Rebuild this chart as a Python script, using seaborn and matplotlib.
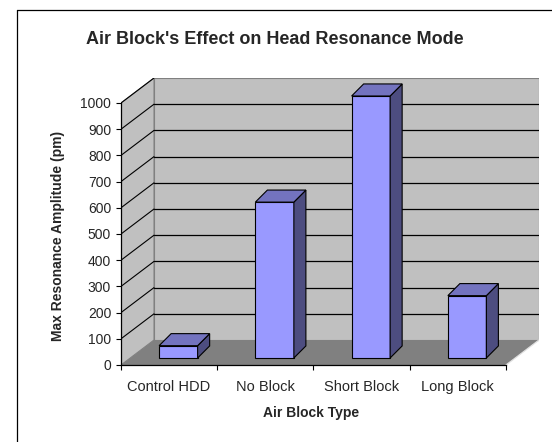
import matplotlib
matplotlib.use("Agg")
import matplotlib.pyplot as plt
from matplotlib.patches import Polygon
from matplotlib.lines import Line2D
import seaborn as sns
import pandas as pd

# ---- data ----
categories = ["Control HDD", "No Block", "Short Block", "Long Block"]
amplitudes = [47, 595, 1000, 238]
y_ticks = [0, 100, 200, 300, 400, 500, 600, 700, 800, 900, 1000]
title = "Air Block's Effect on Head Resonance Mode"
x_title = "Air Block Type"
y_title = "Max Resonance Amplitude (pm)"

df = pd.DataFrame({"type": categories, "amp": amplitudes})

sns.set_style("white")
plt.rcParams["font.family"] = ["Liberation Sans", "DejaVu Sans"]

W, H = 552, 442
fig = plt.figure(figsize=(W / 100, H / 100), dpi=100)
fig.patch.set_facecolor("white")

# pseudo-3D geometry (data units)
DX, DY = 0.343, 95.4          # depth of floor / walls
BDX, BDY = 0.125, 46.0        # depth of each bar
FR = 0.28                     # bar front-face depth fraction
YMAX = 1000

# axes placement (pixels)
ax_l, ax_r, ax_b, ax_t = 121, 539, 365, 78
ax = fig.add_axes([ax_l / W, 1 - ax_b / H, (ax_r - ax_l) / W, (ax_b - ax_t) / H])
ax.set_facecolor("none")

n = len(categories)
wall = "#C0C0C0"
floor = "#808080"

# bars (front faces) via seaborn
sns.barplot(data=df, x="type", y="amp", color="#9999FF", width=0.4, ax=ax,
            edgecolor="black", linewidth=0.8, saturation=1, zorder=3)
ax.set_xlim(-0.5, n - 0.5 + DX)
ax.set_ylim(0, YMAX + DY)

for p in list(ax.patches):
    p.set_x(p.get_x() + FR * DX)
    p.set_y(p.get_y() + FR * DY)
    x0, y0, w, h = p.get_x(), p.get_y(), p.get_width(), p.get_height()
    side = [(x0 + w, y0), (x0 + w + BDX, y0 + BDY), (x0 + w + BDX, y0 + h + BDY), (x0 + w, y0 + h)]
    top = [(x0, y0 + h), (x0 + w, y0 + h), (x0 + w + BDX, y0 + h + BDY), (x0 + BDX, y0 + h + BDY)]
    ax.add_patch(Polygon(side, closed=True, facecolor="#4D4D80", edgecolor="black", lw=0.8, zorder=3))
    ax.add_patch(Polygon(top, closed=True, facecolor="#7373BF", edgecolor="black", lw=0.8, zorder=3))

# back wall
ax.add_patch(Polygon([(-0.5 + DX, DY), (n - 0.5 + DX, DY), (n - 0.5 + DX, YMAX + DY), (-0.5 + DX, YMAX + DY)],
                     closed=True, facecolor=wall, edgecolor="#808080", lw=0.8, zorder=0.2))
# left wall
ax.add_patch(Polygon([(-0.5, 0), (-0.5 + DX, DY), (-0.5 + DX, YMAX + DY), (-0.5, YMAX)],
                     closed=True, facecolor=wall, edgecolor="#808080", lw=0.8, zorder=0.2))
# floor
ax.add_patch(Polygon([(-0.5, 0), (n - 0.5, 0), (n - 0.5 + DX, DY), (-0.5 + DX, DY)],
                     closed=True, facecolor=floor, edgecolor="none", lw=0, zorder=0.3))
ax.plot([n - 0.5, n - 0.5 + DX], [0, DY], color="#E0E0E0", lw=0.9, zorder=0.4)

# gridlines on back wall + diagonals on left wall
for v in y_ticks[1:]:
    if v < YMAX:
        ax.plot([-0.5 + DX, n - 0.5 + DX], [v + DY, v + DY], color="black", lw=0.9, zorder=0.5)
    ax.plot([-0.5, -0.5 + DX], [v, v + DY], color="black", lw=0.8, zorder=0.5)

# axes / spines
for s in ["top", "right"]:
    ax.spines[s].set_visible(False)
ax.spines["left"].set_position(("data", -0.5))
ax.spines["left"].set_bounds(0, YMAX)
ax.spines["bottom"].set_position(("data", 0))
ax.spines["bottom"].set_bounds(-0.5, n - 0.5)
for s in ["left", "bottom"]:
    ax.spines[s].set_color("black")
    ax.spines[s].set_linewidth(0.9)
    ax.spines[s].set_zorder(2)

ax.set_yticks(y_ticks)
ax.set_yticklabels([str(v) for v in y_ticks], fontsize=10)
ax.tick_params(axis="y", direction="out", length=3.6, width=0.8, pad=3.5, color="black", left=True)
ax.set_xticks(range(n))
ax.set_xticklabels(categories, fontsize=10.5)
ax.set_xticks([i - 0.5 for i in range(n + 1)], minor=True)
ax.tick_params(axis="x", which="major", length=0, pad=11)
ax.tick_params(axis="x", which="minor", direction="out", length=3.6, width=0.8, color="black", bottom=True)

ax.set_xlabel(x_title, fontsize=10, fontweight="bold")
ax.set_ylabel(y_title, fontsize=10, fontweight="bold")
ax.xaxis.set_label_coords((311 - ax_l) / (ax_r - ax_l), (ax_b - 413) / (ax_b - ax_t))
ax.xaxis.label.set_va("center")
ax.yaxis.set_label_coords((58 - ax_l) / (ax_r - ax_l), (ax_b - 236) / (ax_b - ax_t))
ax.yaxis.label.set_va("center")
ax.yaxis.label.set_ha("center")

# title
fig.text(275 / W, 1 - 40 / H, title, ha="center", va="center", fontsize=13, fontweight="bold")

# chart frame
fig.add_artist(Line2D([17 / W, 17 / W], [0, 1 - 10 / H], color="black", lw=0.9, transform=fig.transFigure))
fig.add_artist(Line2D([17 / W, 1], [1 - 10 / H, 1 - 10 / H], color="black", lw=0.9, transform=fig.transFigure))

fig.savefig("out.png", dpi=100)
